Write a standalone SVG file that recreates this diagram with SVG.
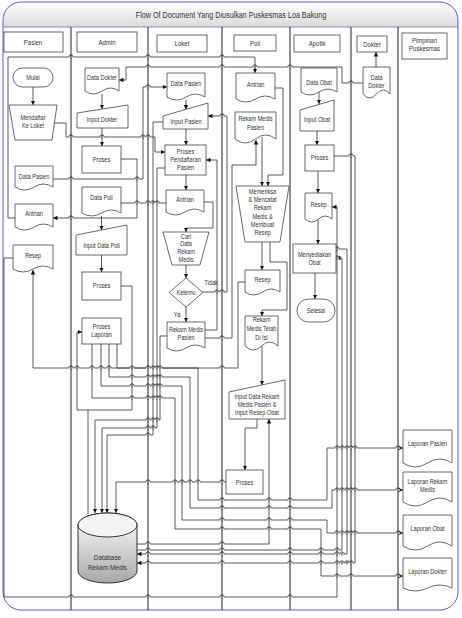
<svg xmlns="http://www.w3.org/2000/svg" xmlns:xlink="http://www.w3.org/1999/xlink" width="462" height="618" viewBox="0 0 462 618">
<defs>
<linearGradient id="tg" x1="0" y1="0" x2="0" y2="1"><stop offset="0" stop-color="#ffffff"/><stop offset="1" stop-color="#dadada"/></linearGradient>
<linearGradient id="dbg" x1="0" y1="0" x2="0" y2="1"><stop offset="0" stop-color="#ffffff"/><stop offset="1" stop-color="#a8a8a8"/></linearGradient>
<marker id="a" viewBox="0 0 6 6" refX="6" refY="3" markerWidth="4.5" markerHeight="4.5" markerUnits="userSpaceOnUse" orient="auto"><path d="M0 0L6 3L0 6Z" fill="#111"/></marker>
<g id="b"><path d="M-2.2 0h4.4" stroke="#fff" stroke-width="1.6"/><path d="M0 -1.6v3.2" stroke="#222" stroke-width="0.9"/><path d="M-2.2 0a2.2 2.2 0 0 1 4.4 0" fill="none" stroke="#333" stroke-width="0.8"/></g>
<style>
.s{fill:#fff;stroke:#444;stroke-width:0.8}
.t{font-family:"Liberation Sans",Arial,sans-serif;font-size:7px;fill:#333;text-anchor:middle;transform-box:fill-box;transform-origin:center;transform:scaleX(0.8)}
.h{font-size:7.5px}
.c{fill:none;stroke:#333;stroke-width:0.8}
.ca{fill:none;stroke:#333;stroke-width:0.8;marker-end:url(#a)}
.l{stroke:#222;stroke-width:1}
</style>
</defs>
<rect width="462" height="618" fill="#fff"/>
<g id="frame">
<path d="M3 27V20A18 18 0 0 1 21 2H440A18 18 0 0 1 458 20V27Z" fill="url(#tg)"/>
<rect x="3" y="2" width="455" height="608" rx="18" fill="none" stroke="#5b5bd6" stroke-width="1"/>
<line x1="3" y1="27" x2="458" y2="27" stroke="#8a8ad8" stroke-width="1"/>
<text class="t" x="231" y="18" style="font-size:9px">Flow Of Document Yang Diusulkan Puskesmas Loa Bakung</text>
<g class="l">
<line x1="71" y1="27" x2="71" y2="610"/><line x1="148" y1="27" x2="148" y2="610"/><line x1="222" y1="27" x2="222" y2="610"/><line x1="290" y1="27" x2="290" y2="610"/><line x1="351" y1="27" x2="351" y2="610"/><line x1="398" y1="27" x2="398" y2="610"/>
</g>
</g>
<g id="lanes">
<g id="h-pasien"><rect class="s" x="4" y="32" width="59" height="20"/><text class="t h" x="33" y="45">Pasien</text></g>
<g id="h-admin"><rect class="s" x="77" y="32" width="60" height="20"/><text class="t h" x="107" y="45">Admin</text></g>
<g id="h-loket"><rect class="s" x="157" y="35" width="50" height="17"/><text class="t h" x="182" y="46">Loket</text></g>
<g id="h-poli"><rect class="s" x="234" y="35" width="42" height="16"/><text class="t h" x="255" y="46">Poli</text></g>
<g id="h-apotik"><rect class="s" x="294" y="35" width="46" height="17"/><text class="t h" x="317" y="46">Apotik</text></g>
<g id="h-dokter"><rect class="s" x="357" y="36" width="30" height="16"/><text class="t h" x="372" y="47">Dokter</text></g>
<g id="h-pimpinan"><rect class="s" x="402" y="33" width="45" height="26"/><text class="t h" x="424.5" y="43">Pimpinan</text><text class="t h" x="424.5" y="51">Puskesmas</text></g>
</g>
<g id="connectors">
<path class="ca" d="M33 87V105"/>
<path class="ca" d="M54 123H66V137H155V152H165"/>
<path class="ca" d="M53 179H143V87H167"/>
<path class="ca" d="M15 218H8V57H255V73"/>
<path class="ca" d="M363 83H342V67H126V80H119"/>
<path class="ca" d="M376 67V52"/>
<path class="ca" d="M102 94V109"/>
<path class="ca" d="M102 128V146"/>
<path class="ca" d="M121 159H137V218H53"/>
<path class="c" d="M121 203H166"/>
<path class="ca" d="M101.5 216V230"/>
<path class="ca" d="M101.5 255V272"/>
<path class="ca" d="M121 286H132V410H77V332H82"/>
<path class="c" d="M88 410V514"/>
<path class="ca" d="M117 344V368H198V500H327V448H403"/>
<path class="ca" d="M109 344V377H190V508H332V490H403"/>
<path class="ca" d="M101 344V386H182V520H327V533H403"/>
<path class="ca" d="M92 344V398H175V529H321V576H403"/>
<path class="ca" d="M245 282H238V368H33V270"/>
<path class="ca" d="M13 258H4V597H337V207H332"/>
<path class="ca" d="M186 100V109.5"/>
<path class="ca" d="M186 129V145"/>
<path class="ca" d="M186 175V190"/>
<path class="ca" d="M186 265V278"/>
<path class="ca" d="M186 307V322"/>
<path class="ca" d="M203 292H227V116H208"/>
<path class="ca" d="M205 330H217V160H206"/>
<path class="ca" d="M204 202H213V228H186V232"/>
<path class="ca" d="M205 338H232V165H256V140"/>
<path class="ca" d="M275 88H283V175H268V186"/>
<path class="ca" d="M262 137V186"/>
<path class="ca" d="M262 242V270"/>
<path class="ca" d="M270 242V262H287V310H262V316"/>
<path class="ca" d="M262 346V385"/>
<path class="ca" d="M257 419V428H245V470"/>
<path class="ca" d="M137 544H269V419"/>
<path class="ca" d="M226 482H116V513"/>
<path class="ca" d="M319 92V104"/>
<path class="ca" d="M317 131V145"/>
<path class="ca" d="M318 171V193"/>
<path class="ca" d="M318 219V244"/>
<path class="ca" d="M315 273V299"/>
<path class="ca" d="M334 156H355V563H137"/>
<path class="ca" d="M336 249H347V554H137"/>
<path class="ca" d="M137 550H342V258H336"/>
<path class="ca" d="M167 336H160V420H95V513"/>
<path class="ca" d="M165 168H157V428H102V513"/>
<path class="ca" d="M163 122H153V435H107V513"/>
<g id="jumps">
<use xlink:href="#b" x="71" y="57"/><use xlink:href="#b" x="148" y="57"/><use xlink:href="#b" x="222" y="57"/>
<use xlink:href="#b" x="148" y="67"/><use xlink:href="#b" x="222" y="67"/><use xlink:href="#b" x="255" y="67"/><use xlink:href="#b" x="290" y="67"/>
<use xlink:href="#b" x="351" y="83"/><use xlink:href="#b" x="148" y="87"/>
<use xlink:href="#b" x="71" y="137"/><use xlink:href="#b" x="102" y="137"/><use xlink:href="#b" x="143" y="137"/><use xlink:href="#b" x="148" y="137"/>
<use xlink:href="#b" x="71" y="179"/><use xlink:href="#b" x="137" y="179"/>
<use xlink:href="#b" x="137" y="203"/><use xlink:href="#b" x="148" y="203"/><use xlink:href="#b" x="153" y="203"/><use xlink:href="#b" x="157" y="203"/>
<use xlink:href="#b" x="71" y="218"/><use xlink:href="#b" x="222" y="116"/>
<use xlink:href="#b" x="217" y="292"/><use xlink:href="#b" x="222" y="292"/><use xlink:href="#b" x="222" y="338"/>
<use xlink:href="#b" x="351" y="156"/><use xlink:href="#b" x="337" y="249"/><use xlink:href="#b" x="337" y="258"/>
<use xlink:href="#b" x="71" y="368"/><use xlink:href="#b" x="77" y="368"/><use xlink:href="#b" x="92" y="368"/><use xlink:href="#b" x="101" y="368"/><use xlink:href="#b" x="109" y="368"/><use xlink:href="#b" x="132" y="368"/><use xlink:href="#b" x="148" y="368"/><use xlink:href="#b" x="153" y="368"/><use xlink:href="#b" x="157" y="368"/><use xlink:href="#b" x="160" y="368"/><use xlink:href="#b" x="222" y="368"/>
<use xlink:href="#b" x="132" y="377"/><use xlink:href="#b" x="148" y="377"/><use xlink:href="#b" x="153" y="377"/><use xlink:href="#b" x="157" y="377"/><use xlink:href="#b" x="160" y="377"/>
<use xlink:href="#b" x="132" y="386"/><use xlink:href="#b" x="148" y="386"/><use xlink:href="#b" x="153" y="386"/><use xlink:href="#b" x="157" y="386"/><use xlink:href="#b" x="160" y="386"/>
<use xlink:href="#b" x="132" y="398"/><use xlink:href="#b" x="148" y="398"/><use xlink:href="#b" x="153" y="398"/><use xlink:href="#b" x="157" y="398"/><use xlink:href="#b" x="160" y="398"/>
<use xlink:href="#b" x="148" y="420"/><use xlink:href="#b" x="153" y="420"/><use xlink:href="#b" x="157" y="420"/>
<use xlink:href="#b" x="148" y="428"/><use xlink:href="#b" x="153" y="428"/><use xlink:href="#b" x="148" y="435"/>
<use xlink:href="#b" x="337" y="448"/><use xlink:href="#b" x="342" y="448"/><use xlink:href="#b" x="347" y="448"/><use xlink:href="#b" x="351" y="448"/><use xlink:href="#b" x="355" y="448"/><use xlink:href="#b" x="398" y="448"/>
<use xlink:href="#b" x="148" y="482"/><use xlink:href="#b" x="175" y="482"/><use xlink:href="#b" x="182" y="482"/><use xlink:href="#b" x="190" y="482"/><use xlink:href="#b" x="198" y="482"/><use xlink:href="#b" x="222" y="482"/>
<use xlink:href="#b" x="337" y="490"/><use xlink:href="#b" x="342" y="490"/><use xlink:href="#b" x="347" y="490"/><use xlink:href="#b" x="351" y="490"/><use xlink:href="#b" x="355" y="490"/><use xlink:href="#b" x="398" y="490"/>
<use xlink:href="#b" x="222" y="500"/><use xlink:href="#b" x="269" y="500"/><use xlink:href="#b" x="290" y="500"/>
<use xlink:href="#b" x="222" y="508"/><use xlink:href="#b" x="269" y="508"/><use xlink:href="#b" x="290" y="508"/>
<use xlink:href="#b" x="222" y="520"/><use xlink:href="#b" x="269" y="520"/><use xlink:href="#b" x="290" y="520"/>
<use xlink:href="#b" x="222" y="529"/><use xlink:href="#b" x="269" y="529"/><use xlink:href="#b" x="290" y="529"/>
<use xlink:href="#b" x="337" y="533"/><use xlink:href="#b" x="342" y="533"/><use xlink:href="#b" x="347" y="533"/><use xlink:href="#b" x="351" y="533"/><use xlink:href="#b" x="355" y="533"/><use xlink:href="#b" x="398" y="533"/>
<use xlink:href="#b" x="148" y="544"/><use xlink:href="#b" x="222" y="544"/>
<use xlink:href="#b" x="148" y="550"/><use xlink:href="#b" x="222" y="550"/><use xlink:href="#b" x="290" y="550"/><use xlink:href="#b" x="321" y="550"/><use xlink:href="#b" x="337" y="550"/>
<use xlink:href="#b" x="148" y="554"/><use xlink:href="#b" x="222" y="554"/><use xlink:href="#b" x="290" y="554"/><use xlink:href="#b" x="321" y="554"/><use xlink:href="#b" x="337" y="554"/><use xlink:href="#b" x="342" y="554"/>
<use xlink:href="#b" x="148" y="563"/><use xlink:href="#b" x="222" y="563"/><use xlink:href="#b" x="290" y="563"/><use xlink:href="#b" x="321" y="563"/><use xlink:href="#b" x="337" y="563"/><use xlink:href="#b" x="342" y="563"/><use xlink:href="#b" x="347" y="563"/><use xlink:href="#b" x="351" y="563"/>
<use xlink:href="#b" x="337" y="576"/><use xlink:href="#b" x="351" y="576"/><use xlink:href="#b" x="398" y="576"/>
<use xlink:href="#b" x="71" y="597"/><use xlink:href="#b" x="148" y="597"/><use xlink:href="#b" x="222" y="597"/><use xlink:href="#b" x="290" y="597"/>
</g>
</g>
<g id="n-mulai"><rect class="s" x="13" y="68" width="40" height="19" rx="9.5"/><text class="t" x="33" y="80">Mulai</text></g>
<g id="n-mendaftar"><path class="s" d="M9 105H57L52 140H15Z"/><text class="t" x="33" y="120">Mendaftar</text><text class="t" x="33" y="128">Ke Loket</text></g>
<g id="n-datapasien1"><path class="s" d="M15 166H53V187Q43.5 181 34 187Q24.5 193 15 187Z"/><text class="t" x="34" y="179">Data Pasien</text></g>
<g id="n-antrian1"><path class="s" d="M15 204H53V227Q43.5 221 34 227Q24.5 233 15 227Z"/><text class="t" x="34" y="216">Antrian</text></g>
<g id="n-resep1"><path class="s" d="M13 245H53V269Q43 263 33 269Q23 275 13 269Z"/><text class="t" x="33" y="258">Resep</text></g>
<g id="n-datadokter1"><path class="s" d="M85 68H119V91Q110.5 85 102 91Q93.5 97 85 91Z"/><text class="t" x="102" y="80">Data Dokter</text></g>
<g id="n-inputdokter"><path class="s" d="M77 113L128 105V128H77Z"/><text class="t" x="102" y="122">Input Dokter</text></g>
<g id="n-proses1"><rect class="s" x="82" y="146" width="39" height="27"/><text class="t" x="101.5" y="162">Proses</text></g>
<g id="n-datapoli"><path class="s" d="M82 187H121V213Q111.25 207 101.5 213Q91.75 219 82 213Z"/><text class="t" x="101.5" y="200">Data Poli</text></g>
<g id="n-inputdatapoli"><path class="s" d="M76 235L127 225V255H76Z"/><text class="t" x="101.5" y="248">Input Data Poli</text></g>
<g id="n-proses2"><rect class="s" x="82" y="272" width="39" height="28"/><text class="t" x="101.5" y="288">Proses</text></g>
<g id="n-proseslaporan"><rect class="s" x="82" y="318" width="39" height="26"/><text class="t" x="101.5" y="329">Proses</text><text class="t" x="101.5" y="337">Laporan</text></g>
<g id="n-datapasien2"><path class="s" d="M167 73H205V97Q195.5 91 186 97Q176.5 103 167 97Z"/><text class="t" x="186" y="86">Data Pasien</text></g>
<g id="n-inputpasien"><path class="s" d="M163 116L208 103V129H163Z"/><text class="t" x="186" y="124">Input Pasien</text></g>
<g id="n-prosespendaftaran"><rect class="s" x="165" y="145" width="41" height="30"/><text class="t" x="185.5" y="154">Proses</text><text class="t" x="185.5" y="162">Pendaftaran</text><text class="t" x="185.5" y="170">Pasien</text></g>
<g id="n-antrian2"><path class="s" d="M166 190H204V212Q194.5 206 185 212Q175.5 218 166 212Z"/><text class="t" x="185" y="202">Antrian</text></g>
<g id="n-cari"><path class="s" d="M163 232H209L200 265H172Z"/><text class="t" x="186" y="239">Cari</text><text class="t" x="186" y="246">Data</text><text class="t" x="186" y="254">Rekam</text><text class="t" x="186" y="262">Medis</text></g>
<g id="n-ketemu"><path class="s" d="M186 278L203 292.5L186 307L169 292.5Z"/><text class="t" x="186" y="295">Ketemu</text></g>
<text class="t" x="211" y="285">Tidak</text>
<text class="t" x="177" y="317">Ya</text>
<g id="n-rmp1"><path class="s" d="M167 322H205V348Q195.5 342 186 348Q176.5 354 167 348Z"/><text class="t" x="186" y="332">Rekam Medis</text><text class="t" x="186" y="340">Pasien</text></g>
<g id="n-antrian3"><path class="s" d="M236 73H275V99Q265.25 93 255.5 99Q245.75 105 236 99Z"/><text class="t" x="255.5" y="87">Antrian</text></g>
<g id="n-rmp2"><path class="s" d="M235 112H276V139Q265.75 131 255.5 139Q245.25 147 235 139Z"/><text class="t" x="255.5" y="121">Rekam Medis</text><text class="t" x="255.5" y="130">Pasien</text></g>
<g id="n-memeriksa"><path class="s" d="M236 186H289L280 242H245Z"/><text class="t" x="262.5" y="194">Memeriksa</text><text class="t" x="262.5" y="202">&amp; Mencatat</text><text class="t" x="262.5" y="210">Rekam</text><text class="t" x="262.5" y="219">Medis &amp;</text><text class="t" x="262.5" y="227">Membuat</text><text class="t" x="262.5" y="235">Resep</text></g>
<g id="n-resep2"><path class="s" d="M245 270H280V292Q271.25 286 262.5 292Q253.75 298 245 292Z"/><text class="t" x="262.5" y="282">Resep</text></g>
<g id="n-rmtdi"><path class="s" d="M245 316H278V346Q269.75 338 261.5 346Q253.25 354 245 346Z"/><text class="t" x="261.5" y="322">Rekam</text><text class="t" x="261.5" y="331">Medis Telah</text><text class="t" x="261.5" y="340">Di Isi</text></g>
<g id="n-inputrm"><path class="s" d="M229 392L285 380V419H229Z"/><text class="t" x="257" y="399">Input Data Rekam</text><text class="t" x="257" y="407">Medis Pasien &amp;</text><text class="t" x="257" y="415">Input Resep Obat</text></g>
<g id="n-proses3"><rect class="s" x="226" y="470" width="37" height="24"/><text class="t" x="244.5" y="485">Proses</text></g>
<g id="n-dataobat"><path class="s" d="M301 68H337V92Q328 86 319 92Q310 98 301 92Z"/><text class="t" x="319" y="85">Data Obat</text></g>
<g id="n-inputobat"><path class="s" d="M300 110L334 100V131H300Z"/><text class="t" x="317" y="122">Input Obat</text></g>
<g id="n-proses4"><rect class="s" x="305" y="145" width="29" height="26"/><text class="t" x="319.5" y="160">Proses</text></g>
<g id="n-resep3"><path class="s" d="M305 193H332V219Q325.25 213 318.5 219Q311.75 225 305 219Z"/><text class="t" x="318.5" y="207">Resep</text></g>
<g id="n-menyediakan"><rect class="s" x="293" y="244" width="43" height="29"/><text class="t" x="314.5" y="257">Menyediakan</text><text class="t" x="314.5" y="265">Obat</text></g>
<g id="n-selesai"><rect class="s" x="297" y="299" width="38" height="23" rx="11.5"/><text class="t" x="316" y="313">Selesai</text></g>
<g id="n-datadokter2"><path class="s" d="M363 67H390V94Q383.25 86 376.5 94Q369.75 102 363 94Z"/><text class="t" x="376.5" y="80">Data</text><text class="t" x="376.5" y="88">Dokter</text></g>
<g id="n-lappasien"><path class="s" d="M403 430H452V463Q439.75 455 427.5 463Q415.25 471 403 463Z"/><text class="t" x="427.5" y="446">Laporan Pasien</text></g>
<g id="n-laprm"><path class="s" d="M403 472H452V502Q439.75 494 427.5 502Q415.25 510 403 502Z"/><text class="t" x="427.5" y="484">Laporan Rekam</text><text class="t" x="427.5" y="492">Medis</text></g>
<g id="n-lapobat"><path class="s" d="M403 515H452V546Q439.75 538 427.5 546Q415.25 554 403 546Z"/><text class="t" x="427.5" y="531">Laporan Obat</text></g>
<g id="n-lapdokter"><path class="s" d="M403 558H452V588Q439.75 582 427.5 588Q415.25 594 403 588Z"/><text class="t" x="427.5" y="574">Laporan Dokter</text></g>
<g id="n-database"><path d="M78 525A29.5 12 0 0 1 137 525V571A29.5 12 0 0 1 78 571Z" fill="url(#dbg)" stroke="#333" stroke-width="1"/><ellipse cx="107.5" cy="525" rx="29.5" ry="12" fill="#f4f4f4" stroke="#333" stroke-width="1"/><text class="t" x="107.5" y="560" style="font-size:8px">Database</text><text class="t" x="107.5" y="570" style="font-size:8px">Rekam Medis</text></g>
</svg>
